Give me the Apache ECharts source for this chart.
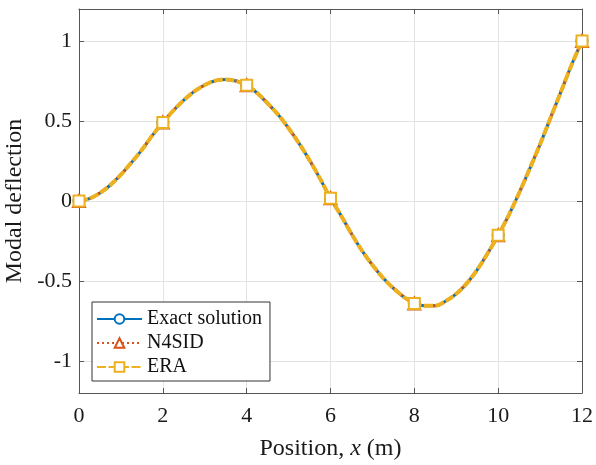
<!DOCTYPE html>
<html>
<head>
<meta charset="utf-8">
<script src="https://cdn.jsdelivr.net/npm/echarts@6/dist/echarts.min.js"></script>
<style>html,body{margin:0;padding:0;background:#fff}#c{width:596px;height:465px}</style>
</head>
<body>
<div id="c"></div>
<script>
// Dense positions along the beam (m)
const posX = [0,0.25,0.5,0.75,1,1.25,1.5,1.75,2,2.25,2.5,2.75,3,3.25,3.5,3.75,4,4.25,4.5,4.75,5,5.25,5.5,5.75,6,6.25,6.5,6.75,7,7.25,7.5,7.75,8,8.25,8.5,8.75,9,9.25,9.5,9.75,10,10.25,10.5,10.75,11,11.25,11.5,11.75,12];
// Mode shape (all three curves overlap)
const exactCurve = [0,0.015,0.05,0.1,0.165,0.24,0.32,0.41,0.49,0.565,0.63,0.685,0.725,0.752,0.76,0.75,0.723,0.675,0.61,0.54,0.455,0.36,0.255,0.14,0.017,-0.09,-0.205,-0.31,-0.4,-0.48,-0.545,-0.6,-0.64,-0.655,-0.655,-0.625,-0.58,-0.515,-0.43,-0.327,-0.214,-0.09,0.05,0.2,0.355,0.52,0.685,0.85,1];
const n4sidCurve = [0,0.015,0.05,0.1,0.165,0.24,0.32,0.41,0.49,0.565,0.63,0.685,0.725,0.752,0.76,0.75,0.723,0.675,0.61,0.54,0.455,0.36,0.255,0.14,0.017,-0.09,-0.205,-0.31,-0.4,-0.48,-0.545,-0.6,-0.64,-0.655,-0.655,-0.625,-0.58,-0.515,-0.43,-0.327,-0.214,-0.09,0.05,0.2,0.355,0.52,0.685,0.85,1];
const eraCurve = [0,0.015,0.05,0.1,0.165,0.24,0.32,0.41,0.49,0.565,0.63,0.685,0.725,0.752,0.76,0.75,0.723,0.675,0.61,0.54,0.455,0.36,0.255,0.14,0.017,-0.09,-0.205,-0.31,-0.4,-0.48,-0.545,-0.6,-0.64,-0.655,-0.655,-0.625,-0.58,-0.515,-0.43,-0.327,-0.214,-0.09,0.05,0.2,0.355,0.52,0.685,0.85,1];
// Sensor locations and identified values (markers)
const sensorX = [0,2,4,6,8,10,12];
const exactAtSensors = [0,0.49,0.723,0.017,-0.64,-0.214,1];
const n4sidAtSensors = [0,0.49,0.723,0.017,-0.64,-0.214,1];
const eraAtSensors = [0,0.49,0.723,0.017,-0.64,-0.214,1];
const seriesNames = ['Exact solution','N4SID','ERA'];
const xTicks = [0,2,4,6,8,10,12];
const yTicks = [-1,-0.5,0,0.5,1];

const FONT = '"Liberation Serif","Times New Roman",serif';
function build(curve, sensors){
  return posX.map((x,i)=>{
    const k = sensorX.indexOf(x);
    if (k >= 0) return {value:[x, sensors[k]]};
    return {value:[x, curve[i]], symbol:'none'};
  });
}
const chart = echarts.init(document.getElementById('c'), null, {renderer:'canvas'});
const axisLineStyle = {color:'#555', width:1};
const labelStyle = {fontFamily:FONT, fontSize:22, color:'#1a1a1a'};
chart.setOption({
  animation:false,
  backgroundColor:'#fff',
  grid:{left:79, right:14, top:9, bottom:72, containLabel:false, outerBoundsMode:'none'},
  legend:{
    orient:'vertical', left:92, top:302,
    backgroundColor:'#fff', borderColor:'#333', borderWidth:1,
    padding:[7,8,4,4], itemGap:4, itemWidth:45, itemHeight:12,
    textStyle:{fontFamily:FONT, fontSize:20, color:'#111'},
    data:seriesNames
  },
  xAxis:[{
    type:'value', min:0, max:12, interval:2,
    axisLine:{show:true, onZero:false, lineStyle:axisLineStyle},
    axisTick:{show:true, inside:true, length:5, lineStyle:axisLineStyle},
    axisLabel:{...labelStyle, margin:12, customValues:xTicks},
    splitLine:{show:true, lineStyle:{color:'#e3e3e3', width:1}},
    name:'Position, {i|x} (m)', nameLocation:'middle', nameGap:44,
    nameTextStyle:{fontFamily:FONT, fontSize:24, color:'#1a1a1a',
      rich:{i:{fontFamily:FONT, fontSize:24, fontStyle:'italic', color:'#1a1a1a'}}}
  },{
    type:'value', min:0, max:12, interval:2, position:'top',
    axisLine:{show:true, onZero:false, lineStyle:axisLineStyle},
    axisTick:{show:true, inside:true, length:5, lineStyle:axisLineStyle},
    axisLabel:{show:false}, splitLine:{show:false}
  }],
  yAxis:[{
    type:'value', min:-1.2, max:1.2,
    axisLine:{show:true, onZero:false, lineStyle:axisLineStyle},
    axisTick:{show:true, inside:true, length:5, lineStyle:axisLineStyle, customValues:yTicks},
    axisLabel:{...labelStyle, margin:7, customValues:yTicks},
    splitLine:{show:true, lineStyle:{color:'#e3e3e3', width:1}},
    name:'Modal deflection', nameLocation:'middle', nameGap:40,
    nameTextStyle:{fontFamily:FONT, fontSize:24, color:'#1a1a1a'}
  },{
    type:'value', min:-1.2, max:1.2, position:'right',
    axisLine:{show:true, onZero:false, lineStyle:axisLineStyle},
    axisTick:{show:true, inside:true, length:5, lineStyle:axisLineStyle, customValues:yTicks},
    axisLabel:{show:false}, splitLine:{show:false}
  }],
  series:[
    {name:seriesNames[0], type:'line', data:build(exactCurve, exactAtSensors), smooth:0.3,
     symbol:'emptyCircle', symbolSize:11, showAllSymbol:true, color:'#0072BD',
     lineStyle:{color:'#0072BD', width:3},
     itemStyle:{color:'#0072BD', borderColor:'#0072BD', borderWidth:2}, z:2},
    {name:seriesNames[1], type:'line', data:build(n4sidCurve, n4sidAtSensors), smooth:0.3,
     symbol:'emptyTriangle', symbolSize:12, showAllSymbol:true, color:'#D95319',
     lineStyle:{color:'#D95319', width:3, type:[2,3]},
     itemStyle:{color:'#D95319', borderColor:'#D95319', borderWidth:2}, z:3},
    {name:seriesNames[2], type:'line', data:build(eraCurve, eraAtSensors), smooth:0.3,
     symbol:'emptyRect', symbolSize:11, showAllSymbol:true, color:'#EDB120',
     lineStyle:{color:'#EDB120', width:4, type:[9,2.5]},
     itemStyle:{color:'#EDB120', borderColor:'#EDB120', borderWidth:2.5}, z:4}
  ]
});
</script>
</body>
</html>
